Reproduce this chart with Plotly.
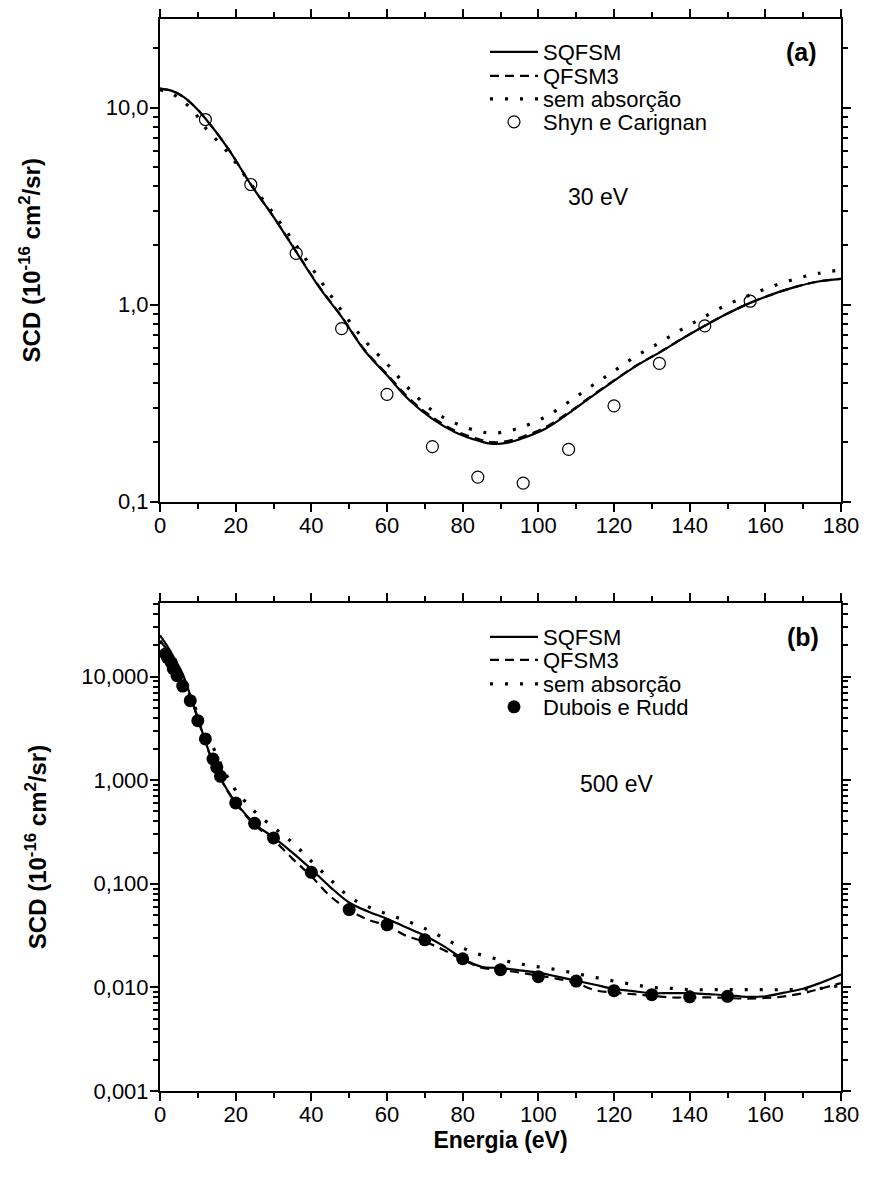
import plotly.graph_objects as go

# ---------------- panel (a): 30 eV ----------------
ang_a = [0, 3, 6, 9, 12, 18, 24, 30, 36, 42, 48, 54, 60, 66, 72, 78, 84, 88, 92, 96,
         102, 108, 114, 120, 126, 132, 138, 144, 150, 156, 162, 168, 174, 180]
sqfsm_a = [12.5, 12.2, 11.4, 10.2, 8.8, 6.2, 4.07, 2.79, 1.85, 1.23, 0.865, 0.586,
           0.437, 0.326, 0.263, 0.225, 0.204, 0.196, 0.199, 0.21, 0.235, 0.28, 0.34,
           0.41, 0.49, 0.57, 0.67, 0.78, 0.90, 1.02, 1.13, 1.23, 1.31, 1.35]
qfsm3_a = [12.5, 12.2, 11.4, 10.2, 8.8, 6.2, 4.07, 2.79, 1.86, 1.24, 0.87, 0.592,
           0.443, 0.332, 0.268, 0.229, 0.208, 0.2, 0.203, 0.214, 0.239, 0.283, 0.343,
           0.412, 0.492, 0.572, 0.672, 0.782, 0.90, 1.02, 1.13, 1.23, 1.31, 1.35]
semabs_a = [12.3, 11.8, 10.8, 9.5, 7.9, 5.9, 4.1, 2.9, 2.0, 1.36, 0.93, 0.66, 0.5,
            0.37, 0.29, 0.25, 0.228, 0.222, 0.228, 0.24, 0.27, 0.32, 0.385, 0.46,
            0.55, 0.64, 0.75, 0.87, 1.0, 1.12, 1.24, 1.35, 1.44, 1.5]
exp_ang_a = [12, 24, 36, 48, 60, 72, 84, 96, 108, 120, 132, 144, 156]
exp_a = [8.7, 4.07, 1.82, 0.755, 0.35, 0.19, 0.133, 0.124, 0.184, 0.306, 0.503, 0.78, 1.04]

# ---------------- panel (b): 500 eV ----------------
ang_b = [0, 2, 4, 6, 8, 10, 12, 14, 16, 18, 20, 25, 30, 35, 40, 45, 50, 55, 60, 65,
         70, 75, 80, 85, 90, 95, 100, 105, 110, 115, 120, 125, 130, 135, 140, 145,
         150, 155, 160, 165, 170, 175, 180]
sqfsm_b = [25, 19.5, 14.5, 10.6, 6.6, 4.0, 2.35, 1.5, 1.05, 0.78, 0.61, 0.38, 0.28,
           0.20, 0.138, 0.093, 0.066, 0.054, 0.046, 0.038, 0.0315, 0.025, 0.019,
           0.0158, 0.0154, 0.0146, 0.0139, 0.0127, 0.0116, 0.0106, 0.0097, 0.0092,
           0.0088, 0.0088, 0.0088, 0.0086, 0.0084, 0.0081, 0.0082, 0.0089, 0.0097,
           0.0112, 0.0133]
qfsm3_b = [22, 18, 13.5, 10.0, 6.4, 3.9, 2.3, 1.48, 1.03, 0.77, 0.6, 0.37, 0.265,
           0.175, 0.118, 0.076, 0.056, 0.045, 0.0395, 0.0315, 0.0275, 0.023, 0.0185,
           0.0155, 0.0148, 0.0139, 0.013, 0.0121, 0.011, 0.0094, 0.0089, 0.0086,
           0.0083, 0.0080, 0.0080, 0.0080, 0.0079, 0.0078, 0.0079, 0.0082, 0.0088,
           0.0098, 0.011]
semabs_b = [22, 18, 13.5, 9.5, 6.5, 4.4, 3.1, 2.1, 1.45, 1.05, 0.8, 0.5, 0.35, 0.25,
            0.165, 0.11, 0.075, 0.06, 0.051, 0.044, 0.037, 0.03, 0.024, 0.0205,
            0.0185, 0.0169, 0.0158, 0.0148, 0.0136, 0.0125, 0.0115, 0.0107, 0.0100,
            0.0098, 0.0095, 0.0095, 0.0095, 0.0095, 0.0095, 0.0095, 0.0096, 0.0098,
            0.0105]
exp_ang_b = [1.5, 2, 3, 3.5, 4.5, 6, 8, 10, 12, 14, 15, 16, 20, 25, 30, 40, 50, 60,
             70, 80, 90, 100, 110, 120, 130, 140, 150]
exp_b = [16.6, 15.2, 13.6, 11.9, 10.2, 8.1, 5.85, 3.75, 2.5, 1.6, 1.33, 1.09, 0.603,
         0.383, 0.277, 0.129, 0.0564, 0.0402, 0.0288, 0.0189, 0.0148, 0.0127, 0.0115,
         0.0093, 0.0085, 0.0081, 0.0082]

names = ["SQFSM", "QFSM3", "sem absorção"]
exp_names = ["Shyn e Carignan", "Dubois e Rudd"]
x_ticks = [0, 20, 40, 60, 80, 100, 120, 140, 160, 180]
ya_vals = [0.1, 1, 10]
ya_text = ["0,1", "1,0", "10,0"]
yb_vals = [0.001, 0.01, 0.1, 1, 10]
yb_text = ["0,001", "0,010", "0,100", "1,000", "10,000"]

FONT = "Liberation Sans, Arial, sans-serif"
dash_styles = ["solid", "9px,6px", "3px,12px"]
widths = [2.2, 2.2, 3.2]

# page coordinates -> figure (the page body has an 8px margin)
W, HT = 856, 1162
L, R, T, B = 152, 23, 11, 79
PH = HT - T - B


def py(p):
    return (1091 - p) / PH


def px(p):
    return (p - 160) / (W - L - R)


legend_rows_a = [52, 76, 99, 122]
legend_rows_b = [637, 660, 684, 707]

fig = go.Figure()
k = 0
for nm, ys, ds, w in zip(names, [sqfsm_a, qfsm3_a, semabs_a], dash_styles, widths):
    k += 1
    fig.add_trace(go.Scatter(x=ang_a, y=ys, mode="lines", name=nm, line_shape="spline",
                             line=dict(color="black", width=w, dash=ds),
                             xaxis="x", yaxis="y",
                             legend="legend" if k == 1 else f"legend{k}"))
k += 1
fig.add_trace(go.Scatter(x=exp_ang_a, y=exp_a, mode="markers", name=exp_names[0],
                         marker=dict(symbol="circle-open", size=12, color="black",
                                     line=dict(width=1.2, color="black")),
                         xaxis="x", yaxis="y", legend=f"legend{k}"))
for nm, ys, ds, w in zip(names, [sqfsm_b, qfsm3_b, semabs_b], dash_styles, widths):
    k += 1
    fig.add_trace(go.Scatter(x=ang_b, y=ys, mode="lines", name=nm, line_shape="spline",
                             line=dict(color="black", width=w, dash=ds),
                             xaxis="x2", yaxis="y2", legend=f"legend{k}"))
k += 1
fig.add_trace(go.Scatter(x=exp_ang_b, y=exp_b, mode="markers", name=exp_names[1],
                         marker=dict(symbol="circle", size=13, color="black"),
                         xaxis="x2", yaxis="y2", legend=f"legend{k}"))

minor_a = [v * m for m in [0.1, 1, 10] for v in range(2, 10)]
minor_b = [v * m for m in [0.001, 0.01, 0.1, 1, 10] for v in range(2, 10)]

TICKF = dict(family=FONT, size=22, color="black")
XTITLEF = dict(family=FONT, size=23, color="black", weight="bold")
YTITLEF = dict(family=FONT, size=24, color="black", weight="bold")

xcommon = dict(range=[0, 180], tickmode="array", tickvals=x_ticks,
               ticktext=[str(v) for v in x_ticks], ticks="outside", ticklen=8,
               tickwidth=2, tickcolor="black", showline=True, linewidth=2,
               linecolor="black", mirror="ticks", showgrid=False, zeroline=False,
               tickfont=TICKF, ticklabelstandoff=-5,
               minor=dict(tickmode="array", tickvals=list(range(10, 180, 20)),
                          ticks="outside", ticklen=5, tickwidth=2, tickcolor="black",
                          showgrid=False))
ytitle = "SCD (10<sup>-16</sup> cm<sup>2</sup>/sr)"
ycommon = dict(type="log", tickmode="array", ticks="outside", ticklen=8, tickwidth=2,
               tickcolor="black", showline=True, linewidth=2, linecolor="black",
               mirror="ticks", showgrid=False, zeroline=False, tickfont=TICKF,
               ticklabelstandoff=-3)

legends = {}
rows = legend_rows_a + legend_rows_b
for i, yc in enumerate(rows):
    key = "legend" if i == 0 else f"legend{i + 1}"
    legends[key] = dict(x=px(485), xanchor="left", y=py(yc), yanchor="middle",
                        bgcolor="rgba(0,0,0,0)", borderwidth=0, itemwidth=48,
                        font=dict(family=FONT, size=22, color="black"))


def label(text, x, y, size):
    return dict(text=text, x=px(x), y=py(y), xref="paper", yref="paper",
                xanchor="center", yanchor="middle", showarrow=False,
                font=dict(family=FONT, size=size, color="black"))


fig.update_layout(
    width=W, height=HT, paper_bgcolor="white", plot_bgcolor="white",
    margin=dict(l=L, r=R, t=T, b=B, autoexpand=False),
    font=dict(family=FONT, color="black"),
    xaxis=dict(anchor="y", domain=[0, 1], **xcommon),
    yaxis=dict(anchor="x", domain=[py(501.5), 1.0], range=[-1, 1.45],
               tickvals=ya_vals, ticktext=ya_text,
               minor=dict(tickmode="array", tickvals=minor_a, ticks="outside",
                          ticklen=5, tickwidth=1.5, tickcolor="black", showgrid=False),
               title=dict(text=ytitle, font=YTITLEF, standoff=58),
               **ycommon),
    xaxis2=dict(anchor="y2", domain=[0, 1],
                title=dict(text="Energia (eV)", font=XTITLEF, standoff=1),
                **xcommon),
    yaxis2=dict(anchor="x2", domain=[0, py(603)], range=[-3, 1.71],
                tickvals=yb_vals, ticktext=yb_text,
                minor=dict(tickmode="array", tickvals=minor_b, ticks="outside",
                           ticklen=5, tickwidth=1.5, tickcolor="black", showgrid=False),
                title=dict(text=ytitle, font=YTITLEF, standoff=28),
                **ycommon),
    annotations=[
        label("<b>(a)</b>", 801, 52, 25),
        label("<b>(b)</b>", 803, 637, 25),
        label("30 eV", 598, 197, 23),
        label("500 eV", 617, 784, 23),
    ],
    showlegend=True,
    **legends,
)

fig.write_html("out.html")
